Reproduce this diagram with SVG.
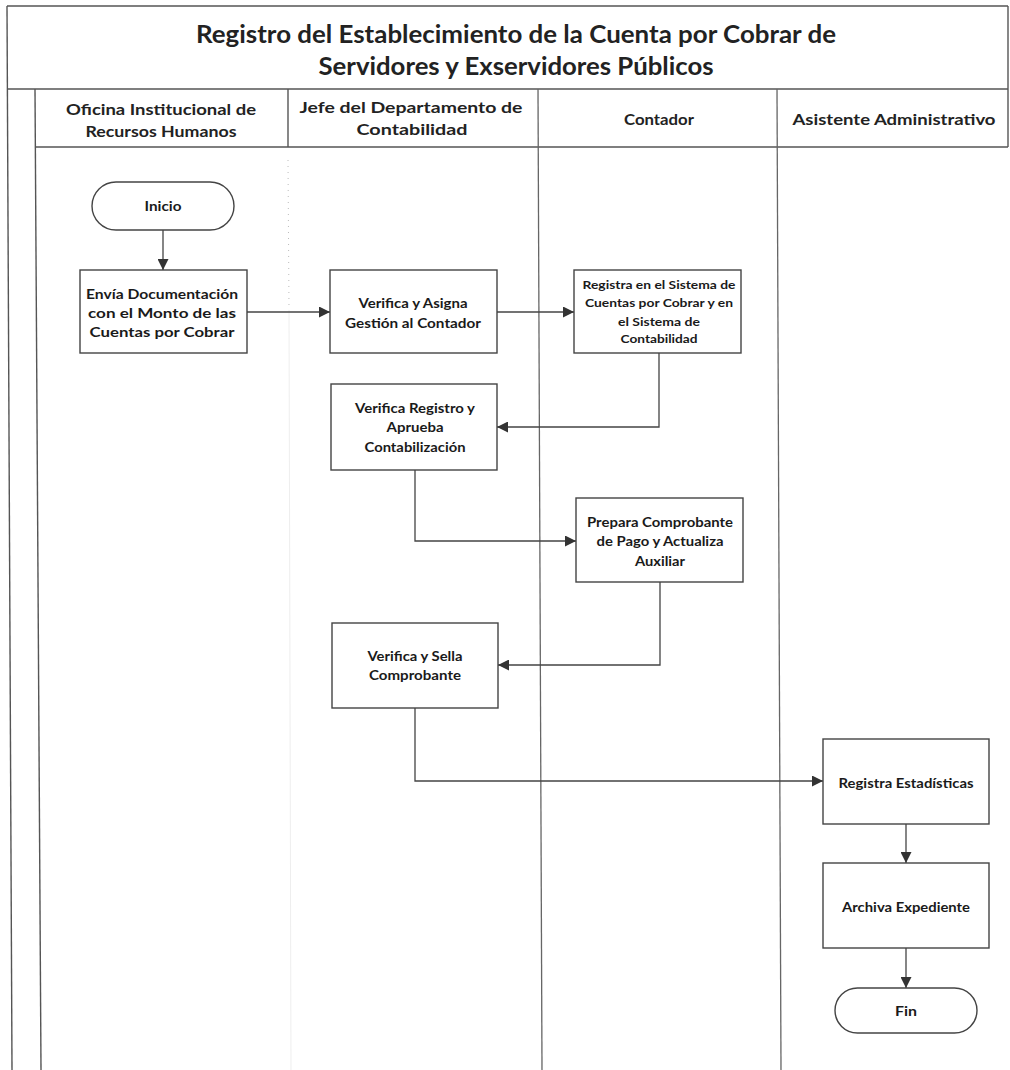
<svg xmlns="http://www.w3.org/2000/svg" width="1010" height="1070" viewBox="0 0 1010 1070">
  <style>
    .frame { fill: none; stroke: #555; stroke-width: 1.4; }
    .lane { fill: none; stroke: #666; stroke-width: 1.3; }
    .faint { fill: none; stroke: #bbb; stroke-width: 1; stroke-dasharray: 1 5; }
    .box { fill: #fff; stroke: #444; stroke-width: 1.4; }
    .edge { fill: none; stroke: #444; stroke-width: 1.3; }
    text { font-family: Lato, "Liberation Sans", sans-serif; font-weight: 700; fill: #1a1a1a; text-anchor: middle; }
    .title { font-size: 24px; fill: #222; }
    .head { font-size: 16px; fill: #222; }
    .lbl { font-size: 14px; }
    .sm { font-size: 12px; }
  </style>
  <defs>
    <marker id="arrow" viewBox="0 0 10 10" refX="10" refY="5" markerWidth="11" markerHeight="11" markerUnits="userSpaceOnUse" orient="auto">
      <path d="M0,0 L10,5 L0,10 Z" fill="#333"/>
    </marker>
  </defs>
  <rect width="1010" height="1070" fill="#fff"/>

  <!-- title block and swimlane frame -->
  <g id="frame">
    <line class="frame" x1="7" y1="6" x2="1008" y2="6"/>
    <line class="frame" x1="1008" y1="6" x2="1008" y2="147"/>
    <line class="frame" x1="7" y1="6" x2="12" y2="1070"/>
    <line class="frame" x1="7" y1="89" x2="1008" y2="89"/>
    <line class="frame" x1="35" y1="89" x2="41" y2="1070"/>
    <line class="frame" x1="35" y1="147" x2="1008" y2="147"/>
    <line class="frame" x1="288" y1="89" x2="288" y2="147"/>
    <line class="lane" x1="538" y1="89" x2="542" y2="1070"/>
    <line class="lane" x1="777" y1="89" x2="781" y2="1070"/>
    <line class="faint" x1="288" y1="160" x2="289" y2="310"/>
    <line x1="289" y1="310" x2="291" y2="1070" stroke="#eee" stroke-width="1"/>
    <text class="title" x="516" y="43" textLength="640" lengthAdjust="spacingAndGlyphs">Registro del Establecimiento de la Cuenta por Cobrar de</text>
    <text class="title" x="516" y="75" textLength="395" lengthAdjust="spacingAndGlyphs">Servidores y Exservidores Públicos</text>
  </g>

  <g id="lane-headers">
    <text class="head" x="161" y="115" textLength="190" lengthAdjust="spacingAndGlyphs">Oficina Institucional de</text>
    <text class="head" x="161" y="137" textLength="151" lengthAdjust="spacingAndGlyphs">Recursos Humanos</text>
    <text class="head" x="411" y="113" textLength="223" lengthAdjust="spacingAndGlyphs">Jefe del Departamento de</text>
    <text class="head" x="412" y="135" textLength="111" lengthAdjust="spacingAndGlyphs">Contabilidad</text>
    <text class="head" x="659" y="125" textLength="70" lengthAdjust="spacingAndGlyphs">Contador</text>
    <text class="head" x="894" y="125" textLength="203" lengthAdjust="spacingAndGlyphs">Asistente Administrativo</text>
  </g>

  <!-- connectors -->
  <g id="connectors">
    <line class="edge" x1="163" y1="230" x2="163" y2="270" marker-end="url(#arrow)"/>
    <line class="edge" x1="247" y1="312" x2="330" y2="312" marker-end="url(#arrow)"/>
    <line class="edge" x1="497" y1="312" x2="574" y2="312" marker-end="url(#arrow)"/>
    <polyline class="edge" points="659,353 659,427 497,427" marker-end="url(#arrow)"/>
    <polyline class="edge" points="415,470 415,541 576,541" marker-end="url(#arrow)"/>
    <polyline class="edge" points="660,582 660,665 498,665" marker-end="url(#arrow)"/>
    <polyline class="edge" points="415,708 415,781 823,781" marker-end="url(#arrow)"/>
    <line class="edge" x1="906" y1="824" x2="906" y2="863" marker-end="url(#arrow)"/>
    <line class="edge" x1="906" y1="948" x2="906" y2="988" marker-end="url(#arrow)"/>
  </g>

  <g id="inicio">
    <rect class="box" x="92" y="182" width="142" height="48" rx="24"/>
    <text class="lbl" x="163" y="211" textLength="37" lengthAdjust="spacingAndGlyphs">Inicio</text>
  </g>

  <g id="envia-documentacion">
    <rect class="box" x="80" y="270" width="167" height="83"/>
    <text class="lbl" x="162" y="299" textLength="152" lengthAdjust="spacingAndGlyphs">Envía Documentación</text>
    <text class="lbl" x="162" y="318" textLength="148" lengthAdjust="spacingAndGlyphs">con el Monto de las</text>
    <text class="lbl" x="162" y="337" textLength="145" lengthAdjust="spacingAndGlyphs">Cuentas por Cobrar</text>
  </g>

  <g id="verifica-asigna">
    <rect class="box" x="330" y="270" width="167" height="83"/>
    <text class="lbl" x="413" y="308" textLength="109" lengthAdjust="spacingAndGlyphs">Verifica y Asigna</text>
    <text class="lbl" x="413" y="328" textLength="136" lengthAdjust="spacingAndGlyphs">Gestión al Contador</text>
  </g>

  <g id="registra-sistema">
    <rect class="box" x="574" y="270" width="167" height="83"/>
    <text class="lbl sm" x="659" y="289" textLength="153" lengthAdjust="spacingAndGlyphs">Registra en el Sistema de</text>
    <text class="lbl sm" x="659" y="307" textLength="148" lengthAdjust="spacingAndGlyphs">Cuentas por Cobrar y en</text>
    <text class="lbl sm" x="659" y="326" textLength="82" lengthAdjust="spacingAndGlyphs">el Sistema de</text>
    <text class="lbl sm" x="659" y="343" textLength="77" lengthAdjust="spacingAndGlyphs">Contabilidad</text>
  </g>

  <g id="verifica-registro">
    <rect class="box" x="331" y="384" width="166" height="86"/>
    <text class="lbl" x="415" y="413" textLength="120" lengthAdjust="spacingAndGlyphs">Verifica Registro y</text>
    <text class="lbl" x="415" y="432" textLength="57" lengthAdjust="spacingAndGlyphs">Aprueba</text>
    <text class="lbl" x="415" y="452" textLength="101" lengthAdjust="spacingAndGlyphs">Contabilización</text>
  </g>

  <g id="prepara-comprobante">
    <rect class="box" x="576" y="498" width="167" height="84"/>
    <text class="lbl" x="660" y="527" textLength="146" lengthAdjust="spacingAndGlyphs">Prepara Comprobante</text>
    <text class="lbl" x="660" y="546" textLength="127" lengthAdjust="spacingAndGlyphs">de Pago y Actualiza</text>
    <text class="lbl" x="660" y="566" textLength="50" lengthAdjust="spacingAndGlyphs">Auxiliar</text>
  </g>

  <g id="verifica-sella">
    <rect class="box" x="332" y="623" width="166" height="85"/>
    <text class="lbl" x="415" y="661" textLength="95" lengthAdjust="spacingAndGlyphs">Verifica y Sella</text>
    <text class="lbl" x="415" y="680" textLength="92" lengthAdjust="spacingAndGlyphs">Comprobante</text>
  </g>

  <g id="registra-estadisticas">
    <rect class="box" x="823" y="739" width="166" height="85"/>
    <text class="lbl" x="906" y="788" textLength="135" lengthAdjust="spacingAndGlyphs">Registra Estadísticas</text>
  </g>

  <g id="archiva-expediente">
    <rect class="box" x="823" y="863" width="166" height="85"/>
    <text class="lbl" x="906" y="912" textLength="128" lengthAdjust="spacingAndGlyphs">Archiva Expediente</text>
  </g>

  <g id="fin">
    <rect class="box" x="835" y="988" width="142" height="45" rx="22.5"/>
    <text class="lbl" x="906" y="1016" textLength="22" lengthAdjust="spacingAndGlyphs">Fin</text>
  </g>
</svg>
